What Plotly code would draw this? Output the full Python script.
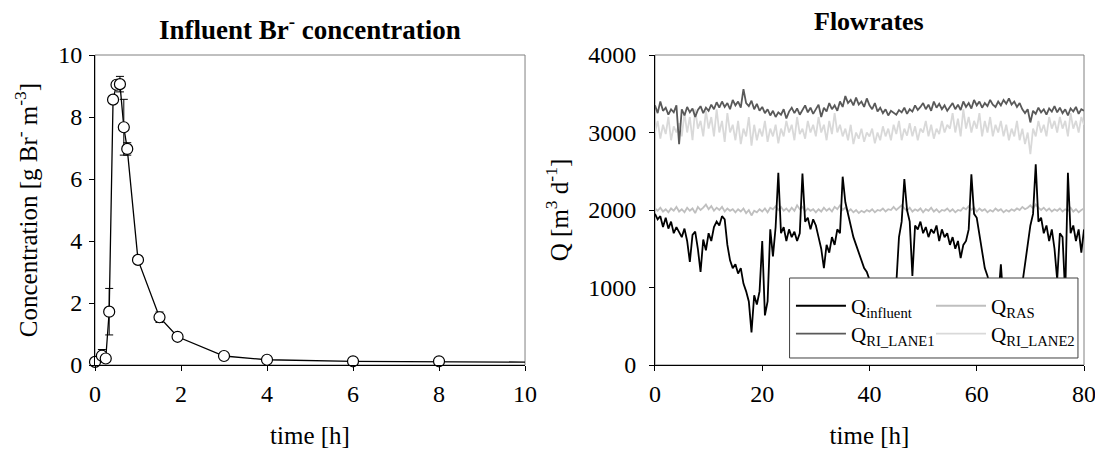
import plotly.graph_objects as go

# --- Influent Br- concentration (left panel) ---
conc_time = [0, 0.16, 0.25, 0.33, 0.42, 0.5, 0.58, 0.67, 0.75, 1.0, 1.5, 1.92, 3, 4, 6, 8, 12]
conc = [0.1, 0.3, 0.21, 1.72, 8.56, 9.04, 9.06, 7.67, 6.97, 3.39, 1.54, 0.91, 0.29, 0.17, 0.12, 0.12, 0.08]
conc_err = [0.02, 0.2, 0.05, 0.75, 0.1, 0.1, 0.25, 0.9, 0.2, 0.05, 0.17, 0.05, 0.03, 0.02, 0.02, 0.02, 0.0]

# --- Flowrates (right panel), one value every 0.5 h ---
flow_time = [i * 0.5 for i in range(161)]

q_influent = [
    1950, 1880, 1920, 1780, 1900, 1760, 1850, 1700, 1780, 1720,
    1650, 1760, 1600, 1330, 1680, 1720, 1500, 1200, 1620, 1480,
    1700, 1600, 1780, 1850, 1800, 1920, 1880, 1550, 1350, 1250,
    1300, 1180, 1250, 1050, 950, 820, 420, 900, 780, 950,
    1600, 640, 820, 1750, 1400, 1780, 2480, 1700, 1780, 1600,
    1750, 1650, 1720, 1600, 1700, 2470, 1850, 1900, 1750, 1880,
    1800, 1650, 1500, 1250, 1550, 1450, 1650, 1550, 1750, 1700,
    2430, 2100, 1950, 1800, 1650, 1550, 1450, 1350, 1250, 1200,
    1100, 1050, 950, 900, 850, 800, 820, 780, 850, 900,
    1050, 1650, 1850, 2400, 2000, 1850, 1150, 1800, 1750, 1850,
    1700, 1780, 1650, 1750, 1700, 1800, 1600, 1750, 1650, 1700,
    1550, 1650, 1500, 1600, 1380, 1550, 1600, 1750, 2460, 1950,
    1900, 1700, 1450, 1250, 1150, 1000, 900, 1050, 850, 1300,
    800, 750, 780, 700, 800, 850, 900, 1050, 1300, 1600,
    1800, 1950, 2590, 1850, 1900, 1700, 1800, 1600, 1750, 1500,
    1100, 1700, 1650, 900, 2480, 1700, 1800, 1600, 1750, 1450,
    1750,
]

q_ras = [
    2020, 1990, 2030, 1980, 2010, 1970, 2020, 1990, 2040, 1980,
    2010, 1970, 2030, 1990, 2020, 1960, 2040, 2000, 2030, 2070,
    2010, 2050, 1990, 2030, 2000, 2040, 1980, 2020, 1990, 2010,
    1970, 2010, 1980, 2020, 1960, 2000, 1930, 1990, 1970, 2010,
    1980, 2020, 1970, 2030, 2010, 2050, 2000, 2040, 1990, 2020,
    1980, 2030, 1990, 2060, 2010, 2040, 1980, 2020, 1990, 2010,
    1970, 2010, 1980, 2030, 1990, 2020, 1980, 2040, 2010, 2060,
    2000, 2030, 1980, 2010, 1970, 2000, 1960, 1990, 1970, 2000,
    1980, 2010, 1970, 2000, 1990, 2020, 1980, 2010, 2000, 2040,
    2000, 2030, 2060, 2020, 1990, 2030, 1980, 2010, 1990, 2020,
    1970, 2010, 1990, 2030, 1980, 2010, 1970, 2000, 1990, 2020,
    1980, 2010, 1970, 2000, 1990, 2030, 2010, 2050, 2000, 2030,
    1980, 2020, 1990, 2010, 1970, 2000, 1980, 2020, 1990, 2010,
    1970, 2000, 1980, 2010, 1990, 2020, 2000, 2040, 2010, 2030,
    2060, 2020, 2070, 2030, 2000, 2030, 1990, 2020, 1980, 2010,
    1990, 2020, 1980, 2010, 1990, 2030, 1980, 2010, 1970, 2000,
    2020,
]

q_ri_lane1 = [
    3350, 3250, 3400, 3280, 3320, 3230, 3300, 3260, 3350, 2850,
    3300, 3220, 3330, 3260, 3310, 3200, 3290, 3340, 3250, 3320,
    3280, 3360, 3300, 3390, 3320, 3400, 3330, 3380, 3300, 3420,
    3350, 3400, 3320, 3560, 3380, 3340, 3410, 3300, 3370, 3280,
    3330, 3250, 3300, 3220, 3280, 3200, 3260, 3230, 3300, 3180,
    3270, 3320, 3250, 3310, 3230, 3290, 3350, 3260, 3320, 3240,
    3300, 3360, 3200, 3320, 3270, 3380, 3300, 3350, 3280, 3400,
    3330, 3470, 3380, 3420, 3350, 3450, 3360, 3400, 3330, 3440,
    3350, 3300, 3380, 3270, 3320, 3250, 3300, 3220, 3280, 3250,
    3230, 3290, 3260, 3320, 3240, 3300, 3270, 3350, 3290, 3330,
    3380, 3300, 3360, 3280, 3400, 3320, 3370, 3300, 3350, 3280,
    3330, 3380, 3300, 3360, 3290, 3400, 3330, 3380, 3310, 3420,
    3350, 3400, 3320, 3380, 3340, 3420, 3360, 3330, 3400, 3350,
    3420, 3370, 3440, 3360, 3400, 3330, 3380, 3300, 3250, 3300,
    3130, 3280, 3240, 3320, 3260, 3300, 3230, 3310, 3270, 3340,
    3260, 3320, 3250, 3300, 3220, 3310, 3270, 3330, 3240, 3300,
    3280,
]

q_ri_lane2 = [
    3000, 3150, 2920, 3100, 2980, 3200, 2900, 3080, 3000, 3120,
    2950, 3250, 3000, 3200, 2900, 3300, 3050, 3150, 2950, 3280,
    3050, 3200, 2950, 3300, 3000, 3150, 2880, 3250, 3000, 3100,
    2900, 3150, 2850, 3050, 2950, 3200, 2830, 3100, 2900, 3050,
    2950, 3150, 2880, 3050, 2950, 3100, 2860, 3050, 2950, 3150,
    3000, 3100, 2900, 3200, 2980, 3050, 2920, 3150, 3000, 3100,
    2950, 3200, 3000, 3100, 2900, 3150, 2980, 3250, 3000, 3100,
    2950, 3050, 2900, 3100, 2850, 3000, 2920, 3050, 2880, 3000,
    2950, 3050, 2860, 3000, 2900, 3080, 2950, 3050, 2900, 3100,
    2980, 3150, 2900, 3050, 2960, 3120, 2950, 3080, 2900, 3050,
    3000, 3150, 2950, 3100, 2920, 3050, 2980, 3150, 3000, 3100,
    3050, 3250, 3000, 3180, 2950, 3300, 3050, 3200, 3000, 3150,
    3050, 3250, 2950, 3150, 3000, 3200, 2950, 3100, 3000, 3150,
    2950, 3100, 2900, 3050, 2950, 3150, 2900, 3050, 2850, 3000,
    2720, 3050, 2950, 3150, 3000, 3100, 2950, 3200, 3050, 3150,
    3000, 3200, 3050, 3150, 2950, 3250, 3050, 3150, 3000, 3200,
    3100,
]

FONT = "Liberation Serif"

fig = go.Figure()

# left panel: connecting line (runs on past the axis end), then markers with error bars
fig.add_trace(go.Scatter(
    x=conc_time, y=conc, mode="lines",
    line=dict(color="black", width=1.3),
    showlegend=False, xaxis="x", yaxis="y",
))
shown = [i for i, t in enumerate(conc_time) if t <= 10]
fig.add_trace(go.Scatter(
    x=[conc_time[i] for i in shown], y=[conc[i] for i in shown],
    mode="markers",
    marker=dict(size=11, color="white", line=dict(color="black", width=1.2)),
    error_y=dict(type="data", array=[conc_err[i] for i in shown],
                 color="black", thickness=1, width=4),
    cliponaxis=False, showlegend=False, xaxis="x", yaxis="y",
))

# right panel, drawn back to front; each series gets its own legend slot (2 x 2 grid)
flow_series = [
    ("Q<sub>RI_LANE2</sub>", q_ri_lane2, "#D9D9D9", "legend4"),
    ("Q<sub>RI_LANE1</sub>", q_ri_lane1, "#595959", "legend3"),
    ("Q<sub>RAS</sub>", q_ras, "#BFBFBF", "legend2"),
    ("Q<sub>influent</sub>", q_influent, "#000000", "legend"),
]
for name, vals, col, leg in flow_series:
    fig.add_trace(go.Scatter(
        x=flow_time, y=vals, mode="lines", name=name,
        line=dict(color=col, width=1.8),
        legend=leg, xaxis="x2", yaxis="y2",
    ))

axis_common = dict(
    showgrid=False, zeroline=False, showline=True, linecolor="black", linewidth=1,
    ticks="outside", ticklen=5, tickcolor="black",
    tickfont=dict(family=FONT, size=24, color="black"),
    automargin=False,
)
title_font = dict(family=FONT, size=25, color="black")
legend_common = dict(
    xanchor="left", yanchor="middle",
    bgcolor="rgba(0,0,0,0)", borderwidth=0,
    font=dict(family=FONT, size=21, color="black"),
    itemwidth=50,
)

fig.update_layout(
    width=1103, height=455,
    template="none",
    paper_bgcolor="white", plot_bgcolor="white",
    margin=dict(l=87, r=27, t=47, b=98, autoexpand=False),
    font=dict(family=FONT, color="black"),
    xaxis=dict(domain=[0, 0.4348], range=[0, 10], dtick=2, anchor="y",
               title=dict(text="time [h]", font=title_font, standoff=20),
               ticklabelstandoff=2, **axis_common),
    yaxis=dict(domain=[0, 1], range=[0, 10], dtick=2, anchor="x",
               title=dict(text="Concentration [g Br<sup>-</sup> m<sup>-3</sup>]",
                          font=title_font, standoff=13),
               ticklabelstandoff=2, **axis_common),
    xaxis2=dict(domain=[0.5662, 1], range=[0, 80], dtick=20, anchor="y2",
                title=dict(text="time [h]", font=title_font, standoff=20),
                ticklabelstandoff=2, **axis_common),
    yaxis2=dict(domain=[0, 1], range=[0, 4000], dtick=1000, anchor="x2",
                title=dict(text="Q [m<sup>3</sup> d<sup>-1</sup>]",
                           font=title_font, standoff=12),
                ticklabelstandoff=8, **axis_common),
    legend=dict(x=0.7037, y=0.190, **legend_common),
    legend2=dict(x=0.8453, y=0.190, **legend_common),
    legend3=dict(x=0.7037, y=0.100, **legend_common),
    legend4=dict(x=0.8453, y=0.100, **legend_common),
    shapes=[
        dict(type="rect", xref="x domain", yref="y domain", x0=0, x1=1, y0=0, y1=1,
             line=dict(color="#808080", width=1), layer="below"),
        dict(type="rect", xref="x2 domain", yref="y2 domain", x0=0, x1=1, y0=0, y1=1,
             line=dict(color="#808080", width=1), layer="below"),
        # legend box
        dict(type="rect", xref="paper", yref="paper", x0=0.7023, x1=0.9939, y0=0.0226, y1=0.2806,
             line=dict(color="#404040", width=1), fillcolor="white", layer="above"),
    ],
    annotations=[
        dict(text="<b>Influent Br<sup>-</sup> concentration</b>", x=0.2174, y=1.087,
             xref="paper", yref="paper", xanchor="center", yanchor="middle",
             showarrow=False, font=dict(family=FONT, size=27, color="black")),
        dict(text="<b>Flowrates</b>", x=0.7831, y=1.108,
             xref="paper", yref="paper", xanchor="center", yanchor="middle",
             showarrow=False, font=dict(family=FONT, size=26, color="black")),
    ],
)

fig.write_html("out.html")
